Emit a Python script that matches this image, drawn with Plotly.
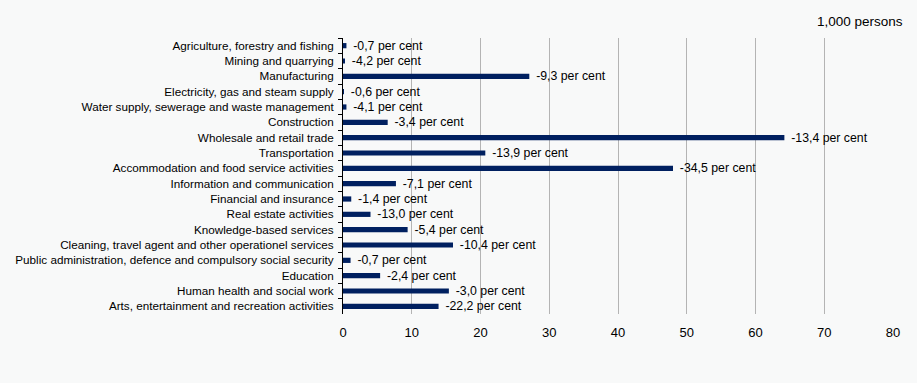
import plotly.graph_objects as go

# Employment by industry (1,000 persons) with percentage change labels
industries = [
    "Agriculture, forestry and fishing",
    "Mining and quarrying",
    "Manufacturing",
    "Electricity, gas and steam supply",
    "Water supply, sewerage and waste management",
    "Construction",
    "Wholesale and retail trade",
    "Transportation",
    "Accommodation and food service activities",
    "Information and communication",
    "Financial and insurance",
    "Real estate activities",
    "Knowledge-based services",
    "Cleaning, travel agent and other operationel services",
    "Public administration, defence and compulsory social security",
    "Education",
    "Human health and social work",
    "Arts, entertainment and recreation activities",
]
persons = [0.5, 0.15, 27.1, 0.1, 0.5, 6.5, 64.2, 20.7, 48.0, 7.7,
           1.2, 4.0, 9.4, 16.0, 1.1, 5.4, 15.4, 13.9]
change_labels = ["-0,7", "-4,2", "-9,3", "-0,6", "-4,1", "-3,4", "-13,4", "-13,9",
                 "-34,5", "-7,1", "-1,4", "-13,0", "-5,4", "-10,4", "-0,7", "-2,4",
                 "-3,0", "-22,2"]
x_ticks = [0, 10, 20, 30, 40, 50, 60, 70, 80]

FONT = "Liberation Sans, Arial, sans-serif"
BG = "#f8f9f9"
PAD = "\u00a0\u00a0"  # small gap between bar end and its label

fig = go.Figure(
    go.Bar(
        y=industries,
        x=persons,
        orientation="h",
        marker=dict(color="#002060", line=dict(width=0)),
        text=[f"{PAD}{c} per cent" for c in change_labels],
        textposition="outside",
        constraintext="none",
        textfont=dict(family=FONT, size=12.3, color="#000000"),
        cliponaxis=False,
        hoverinfo="skip",
    )
)

fig.update_layout(
    width=917,
    height=383,
    margin=dict(l=343, r=24, t=38, b=69),
    paper_bgcolor=BG,
    plot_bgcolor=BG,
    bargap=0.66,
    showlegend=False,
    font=dict(family=FONT, size=12, color="#000000"),
    annotations=[
        dict(
            text="1,000 persons",
            xref="paper", yref="paper",
            x=1.022, y=1.0, yshift=7,
            xanchor="right", yanchor="bottom",
            showarrow=False,
            font=dict(family=FONT, size=13.5, color="#000000"),
        )
    ],
)

fig.update_xaxes(
    range=[0, 80],
    tickvals=x_ticks,
    ticktext=[str(v) for v in x_ticks],
    showgrid=True,
    gridcolor="#b4b4b4",
    gridwidth=1,
    zeroline=False,
    showline=False,
    ticks="",
    tickfont=dict(family=FONT, size=13, color="#000000"),
    ticklabelstandoff=9,
)

fig.update_yaxes(
    categoryorder="array",
    categoryarray=industries,
    autorange="reversed",
    showline=True,
    linecolor="#000000",
    linewidth=1,
    ticks="outside",
    ticklen=4,
    tickcolor="#000000",
    tickson="boundaries",
    showgrid=False,
    ticklabelstandoff=6,
    tickfont=dict(family=FONT, size=11.7, color="#000000"),
)

fig.write_html("out.html")
